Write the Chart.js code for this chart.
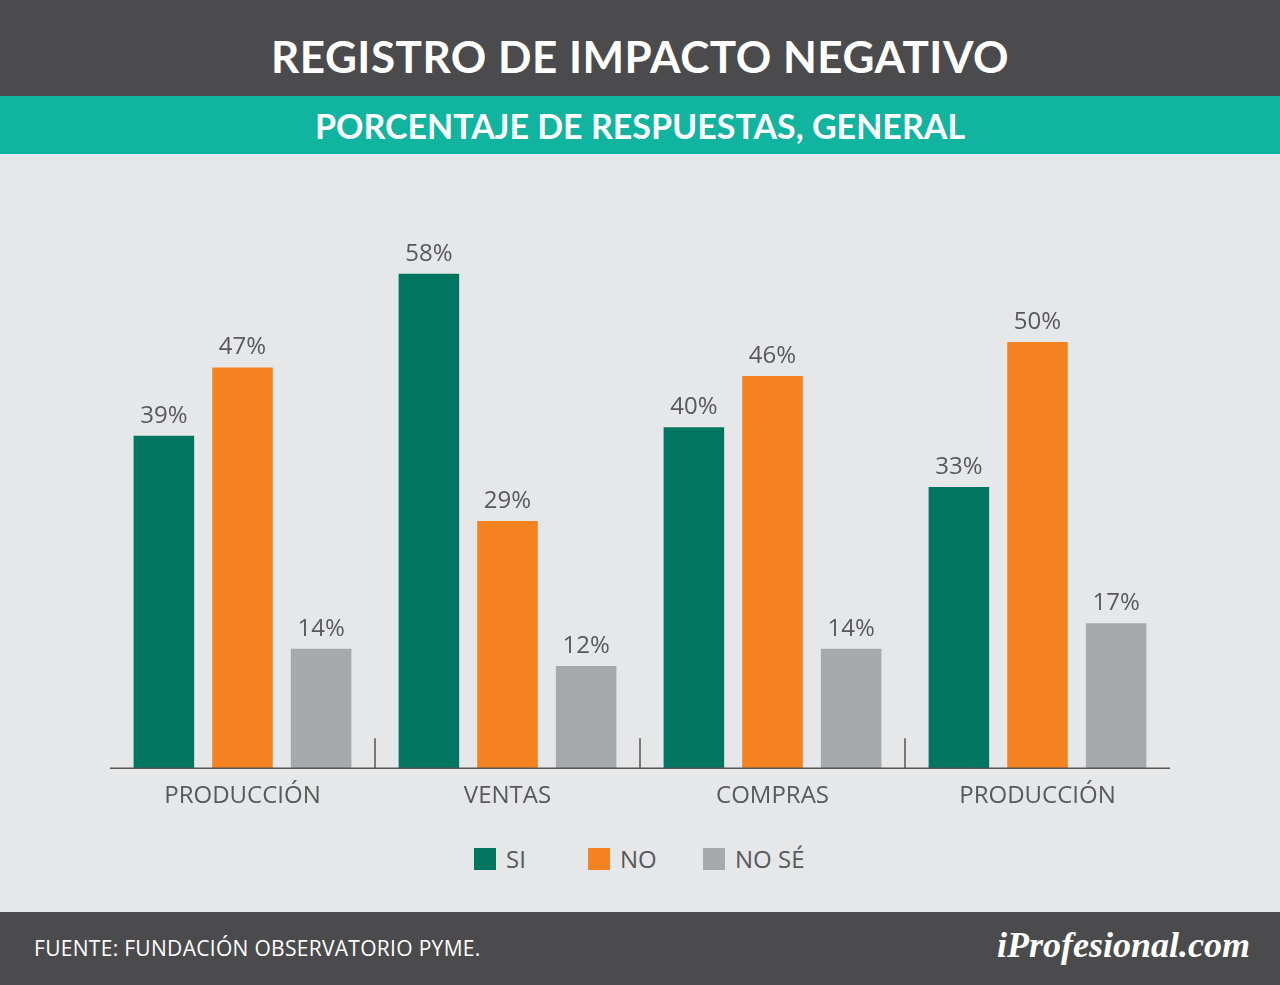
<!DOCTYPE html>
<html><head><meta charset="utf-8">
<script src="https://cdn.jsdelivr.net/npm/chart.js@4"></script>
<style>
body{margin:0;width:1280px;height:985px;overflow:hidden;background:#e6e7e8;font-family:"Open Sans",sans-serif;position:relative}
#h1{position:absolute;left:0;top:8px;width:1280px;height:96px;color:#fff;font:bold 44px Lato,sans-serif;display:flex;align-items:center;justify-content:center;letter-spacing:0.5px}
#h1bg{position:absolute;left:0;top:0;width:1280px;height:96px;background:#4b4b4d}
#h2{position:absolute;left:0;top:96px;width:1280px;height:58px;background:#10b49f;color:#fff;font:bold 34px Lato,sans-serif;display:flex;align-items:center;justify-content:center}
#ft{position:absolute;left:0;top:912px;width:1280px;height:73px;background:#4b4b4d;color:#fff}
#src{position:absolute;left:34px;top:22px;font:21px "Open Sans",sans-serif;letter-spacing:0.3px}
#logo{position:absolute;right:30px;top:12px;font:bold italic 36px "Liberation Serif",serif}
#wrap{position:absolute;left:104px;top:163px;width:1072px;height:654px}
#leg{position:absolute;top:842px;left:0;width:1280px;font:24px "Open Sans",sans-serif;color:#58595b}
.it{position:absolute;display:flex;align-items:center}
.sw{width:22px;height:22px;margin-right:10px}
</style></head><body>
<div id="h1bg"></div>
<div id="h1">REGISTRO DE IMPACTO NEGATIVO</div>
<div id="h2">PORCENTAJE DE RESPUESTAS, GENERAL</div>
<div id="wrap"><canvas id="c"></canvas></div>
<div id="leg"></div>
<div id="ft"><div id="src">FUENTE: FUNDACIÓN OBSERVATORIO PYME.</div><div id="logo">iProfesional.com</div></div>
<script>
const categories=["PRODUCCIÓN","VENTAS","COMPRAS","PRODUCCIÓN"];
const si=[39,58,40,33];
const no=[47,29,46,50];
const nose=[14,12,14,17];
const seriesNames=["SI","NO","NO SÉ"];
const colors=["#00755f","#f58220","#a7a9ac"];
const legX=[474,588,703];
const leg=document.getElementById('leg');
seriesNames.forEach((n,i)=>{const d=document.createElement('div');d.className='it';d.style.left=legX[i]+'px';d.innerHTML='<div class="sw" style="background:'+colors[i]+'"></div>'+n;leg.appendChild(d);});
const labelPlugin={id:'lbl',afterDatasetsDraw(ch){const c=ch.ctx;c.save();c.font='24px "Open Sans"';c.fillStyle='#58595b';c.textAlign='center';c.textBaseline='bottom';
ch.data.datasets.forEach((ds,i)=>{ch.getDatasetMeta(i).data.forEach((b,j)=>{c.fillText(ds.data[j]+'%',b.x,b.y-8);});});
const xs=ch.scales.x,y0=ch.chartArea.bottom;c.strokeStyle='#555';c.lineWidth=1.5;
for(let k=1;k<categories.length;k++){const x=(xs.getPixelForTick(k-1)+xs.getPixelForTick(k))/2;c.beginPath();c.moveTo(x,y0-30);c.lineTo(x,y0);c.stroke();}
c.beginPath();c.moveTo(ch.chartArea.left,y0);c.lineTo(ch.chartArea.right,y0);c.stroke();c.restore();}};
new Chart(document.getElementById('c'),{type:'bar',
data:{labels:categories,datasets:[si,no,nose].map((d,i)=>({label:seriesNames[i],data:d,backgroundColor:colors[i],barPercentage:0.77,categoryPercentage:0.89}))},
options:{responsive:true,maintainAspectRatio:false,animation:false,
layout:{padding:{left:6,right:6,top:0,bottom:0}},
plugins:{legend:{display:false},tooltip:{enabled:false}},
scales:{y:{display:false,min:0,max:71},
x:{grid:{display:false},border:{display:false},ticks:{color:'#58595b',font:{size:24,family:'Open Sans'},padding:6}}}},
plugins:[labelPlugin]});
</script></body></html>
